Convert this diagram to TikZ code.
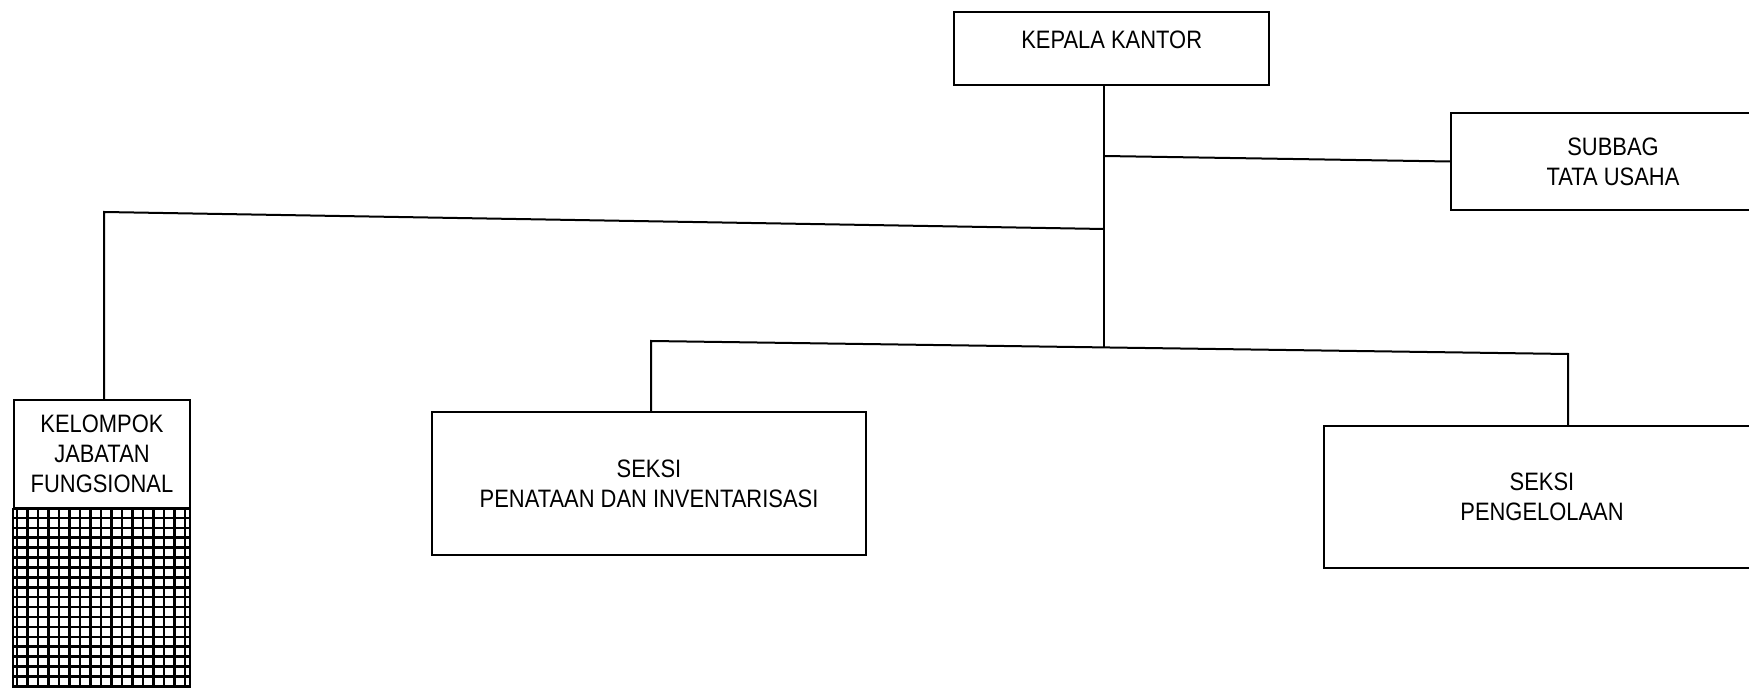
\documentclass[tikz,border=0pt]{standalone}
\usepackage{fontspec}
\setmainfont{Liberation Sans}[FakeStretch=0.87]
\tikzset{
  unitbox/.style={draw, line width=1.2pt, align=center, inner sep=0pt,
    font=\fontsize{12.6}{15}\selectfont},
  link/.style={line width=1pt},
  gridline/.style={line width=1.3pt}
}
\begin{document}
\begin{tikzpicture}[x=0.5pt,y=-0.5pt]
    \clip (0,0) rectangle (1749,688);

    % kotak unit kerja
    \node[unitbox, anchor=north west, minimum width=157.5pt, text height=18pt, text depth=18.5pt] (kepala) at (953,11) {KEPALA KANTOR};
    \node[unitbox, minimum width=162pt, minimum height=48.5pt] (subbag) at (1613,161.5) {SUBBAG\\TATA USAHA};
    \node[unitbox, minimum width=88pt, minimum height=54pt] (kelompok) at (102,454) {KELOMPOK\\JABATAN\\FUNGSIONAL};
    \node[unitbox, minimum width=217pt, minimum height=71.5pt] (seksiA) at (649,483.5) {SEKSI\\PENATAAN DAN INVENTARISASI};
    \node[unitbox, minimum width=218pt, minimum height=71pt] (seksiB) at (1542,497) {SEKSI\\PENGELOLAAN};

    % arsiran kotak fungsional
    \draw[line width=1.2pt] (kelompok.south west) rectangle (190,700);
    \foreach \k in {0,...,16}
        \draw[gridline] ({17+10.5*\k},508) -- ({17+10.5*\k},700);
    \foreach \k in {0,...,17}
        \draw[gridline] (14,{518+9.9*\k}) -- (190,{518+9.9*\k});

    % titik cabang
    \coordinate (jTU) at (1104,156);
    \coordinate (jJF) at (1104,229);
    \coordinate (jSK) at (1104,347);
    \coordinate (jJFl) at (104,212);
    \coordinate (jSA) at (651,341);
    \coordinate (jSB) at (1568,354);

    % garis penghubung
    \draw[link] (kepala.south -| jTU) -- (jSK);
    \draw[link] (jTU) -- (subbag.west);
    \draw[link] (jJF) -- (jJFl) -- (jJFl |- kelompok.north);
    \draw[link] (jSA |- seksiA.north) -- (jSA) -- (jSB) -- (jSB |- seksiB.north);

\end{tikzpicture}
\end{document}
